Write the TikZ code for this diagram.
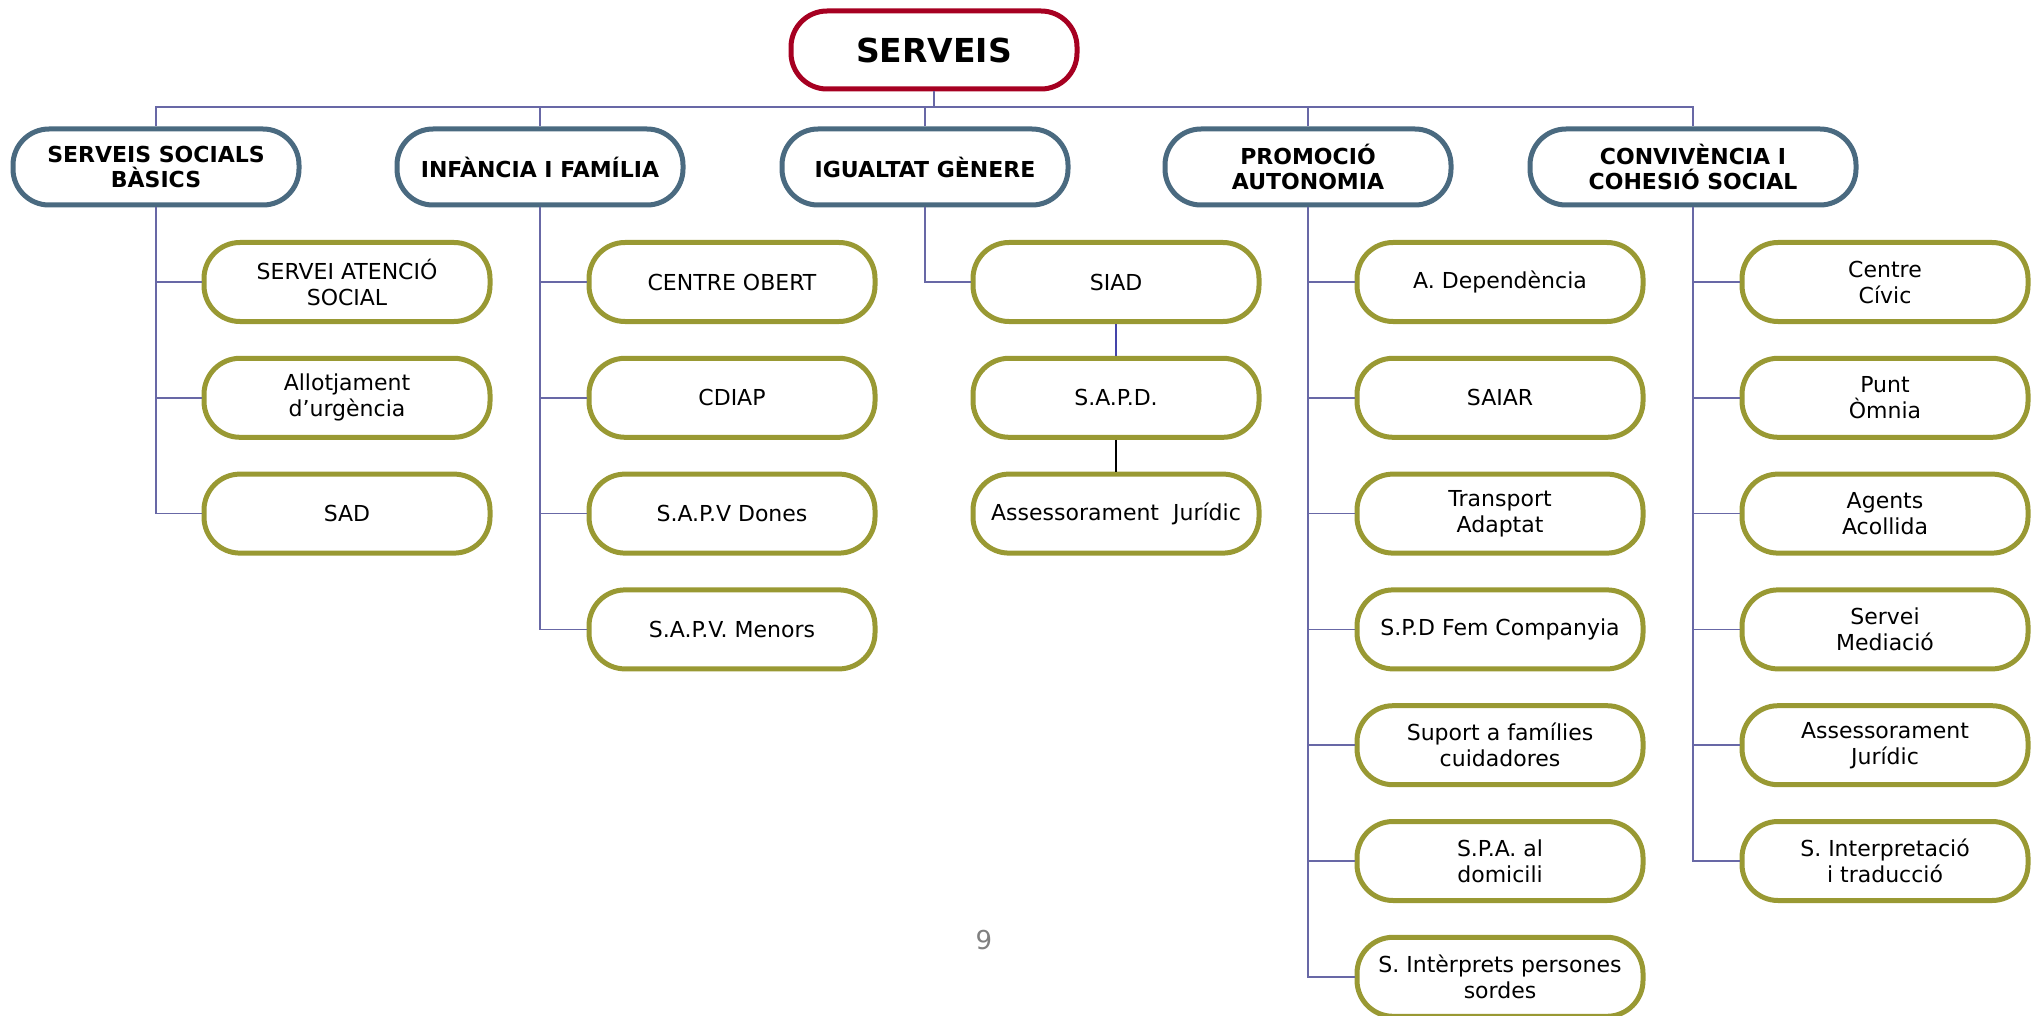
\documentclass[tikz,border=0pt]{standalone}
\usepackage{fontspec}
\setmainfont{DejaVu Sans}
\usepackage{tikz}
\usetikzlibrary{positioning}

\definecolor{topred}{RGB}{166,0,33}
\definecolor{areablue}{RGB}{74,106,128}
\definecolor{servolive}{RGB}{153,153,51}
\definecolor{linkpurple}{RGB}{104,104,166}
\definecolor{linkblue}{RGB}{68,68,170}

\begin{document}
\begin{tikzpicture}[
  x=0.5pt, y=-0.5pt,
  every node/.style={font=\fontsize{11}{13}\selectfont},
  pill/.style={draw, rounded corners=18pt, line width=2.5pt, fill=white,
    minimum width=143pt, minimum height=38pt, inner sep=2pt, align=center},
  head/.style={pill, draw=topred, minimum height=39pt, font=\fontsize{16.5}{18}\selectfont\bfseries},
  area/.style={pill, draw=areablue, font=\fontsize{11}{12.5}\selectfont\bfseries},
  serv/.style={pill, draw=servolive, minimum height=39.5pt},
  link/.style={draw=linkpurple, line width=0.8pt},
  node distance=15.9pt
]
\useasboundingbox (0,0) rectangle (2038,1016);

% capcalera
\node[head] (top) at (934,50) {SERVEIS};

% arees
\node[area] (sb) at (156,167) {SERVEIS SOCIALS\\BÀSICS};
\node[area] (inf) at (540,167) {INFÀNCIA I FAMÍLIA};
\node[area] (igu) at (925,167) {IGUALTAT GÈNERE};
\node[area] (pro) at (1308,167) {PROMOCIÓ\\AUTONOMIA};
\node[area, minimum width=163pt] (con) at (1693,167) {CONVIVÈNCIA I\\COHESIÓ SOCIAL};

% serveis socials basics
\node[serv] (sat) at (347,282) {SERVEI ATENCIÓ\\SOCIAL};
\node[serv, below=of sat] (allot) {Allotjament\\d’urgència};
\node[serv, below=of allot] (sad) {SAD};

% infancia
\node[serv] (cobert) at (732,282) {CENTRE OBERT};
\node[serv, below=of cobert] (cdiap) {CDIAP};
\node[serv, below=of cdiap] (sapvd) {S.A.P.V Dones};
\node[serv, below=of sapvd] (sapvm) {S.A.P.V. Menors};

% igualtat
\node[serv] (siad) at (1116,282) {SIAD};
\node[serv, below=of siad] (sapd) {S.A.P.D.};
\node[serv, below=of sapd] (assj) {Assessorament\ \ Jurídic};

% promocio autonomia
\node[serv] (dep) at (1500,282) {A. Dependència};
\node[serv, below=of dep] (saiar) {SAIAR};
\node[serv, below=of saiar] (transp) {Transport\\Adaptat};
\node[serv, below=of transp] (fem) {S.P.D Fem Companyia};
\node[serv, below=of fem] (cuid) {Suport a famílies\\cuidadores};
\node[serv, below=of cuid] (spa) {S.P.A. al\\domicili};
\node[serv, below=of spa] (sord) {S. Intèrprets persones\\sordes};

% convivencia
\node[serv] (civic) at (1885,282) {Centre\\Cívic};
\node[serv, below=of civic] (omnia) {Punt\\Òmnia};
\node[serv, below=of omnia] (acoll) {Agents\\Acollida};
\node[serv, below=of acoll] (med) {Servei\\Mediació};
\node[serv, below=of med] (assc) {Assessorament\\Jurídic};
\node[serv, below=of assc] (interp) {S. Interpretació\\i traducció};

\node[text=black!50, font=\fontsize{13}{15}\selectfont] (pagenum) at (984,940) {9};

% bus superior
\coordinate (bus) at (934,107);
\draw[link] (top.south) -- (bus);
\draw[link] (sb.north) |- (bus) -| (con.north);
\draw[link] (inf.north) -- (inf.north |- bus);
\draw[link] (igu.north) -- (igu.north |- bus);
\draw[link] (pro.north) -- (pro.north |- bus);

% branques
\draw[link] (sb.south) |- (sat.west);
\draw[link] (sb.south) |- (allot.west);
\draw[link] (sb.south) |- (sad.west);
\draw[link] (inf.south) |- (cobert.west);
\draw[link] (inf.south) |- (cdiap.west);
\draw[link] (inf.south) |- (sapvd.west);
\draw[link] (inf.south) |- (sapvm.west);
\draw[link] (igu.south) |- (siad.west);
\draw[link, draw=linkblue, line width=1pt] (siad) -- (sapd);
\draw[black, line width=1pt] (sapd) -- (assj);
\draw[link] (pro.south) |- (dep.west);
\draw[link] (pro.south) |- (saiar.west);
\draw[link] (pro.south) |- (transp.west);
\draw[link] (pro.south) |- (fem.west);
\draw[link] (pro.south) |- (cuid.west);
\draw[link] (pro.south) |- (spa.west);
\draw[link] (pro.south) |- (sord.west);
\draw[link] (con.south) |- (civic.west);
\draw[link] (con.south) |- (omnia.west);
\draw[link] (con.south) |- (acoll.west);
\draw[link] (con.south) |- (med.west);
\draw[link] (con.south) |- (assc.west);
\draw[link] (con.south) |- (interp.west);
\end{tikzpicture}
\end{document}
